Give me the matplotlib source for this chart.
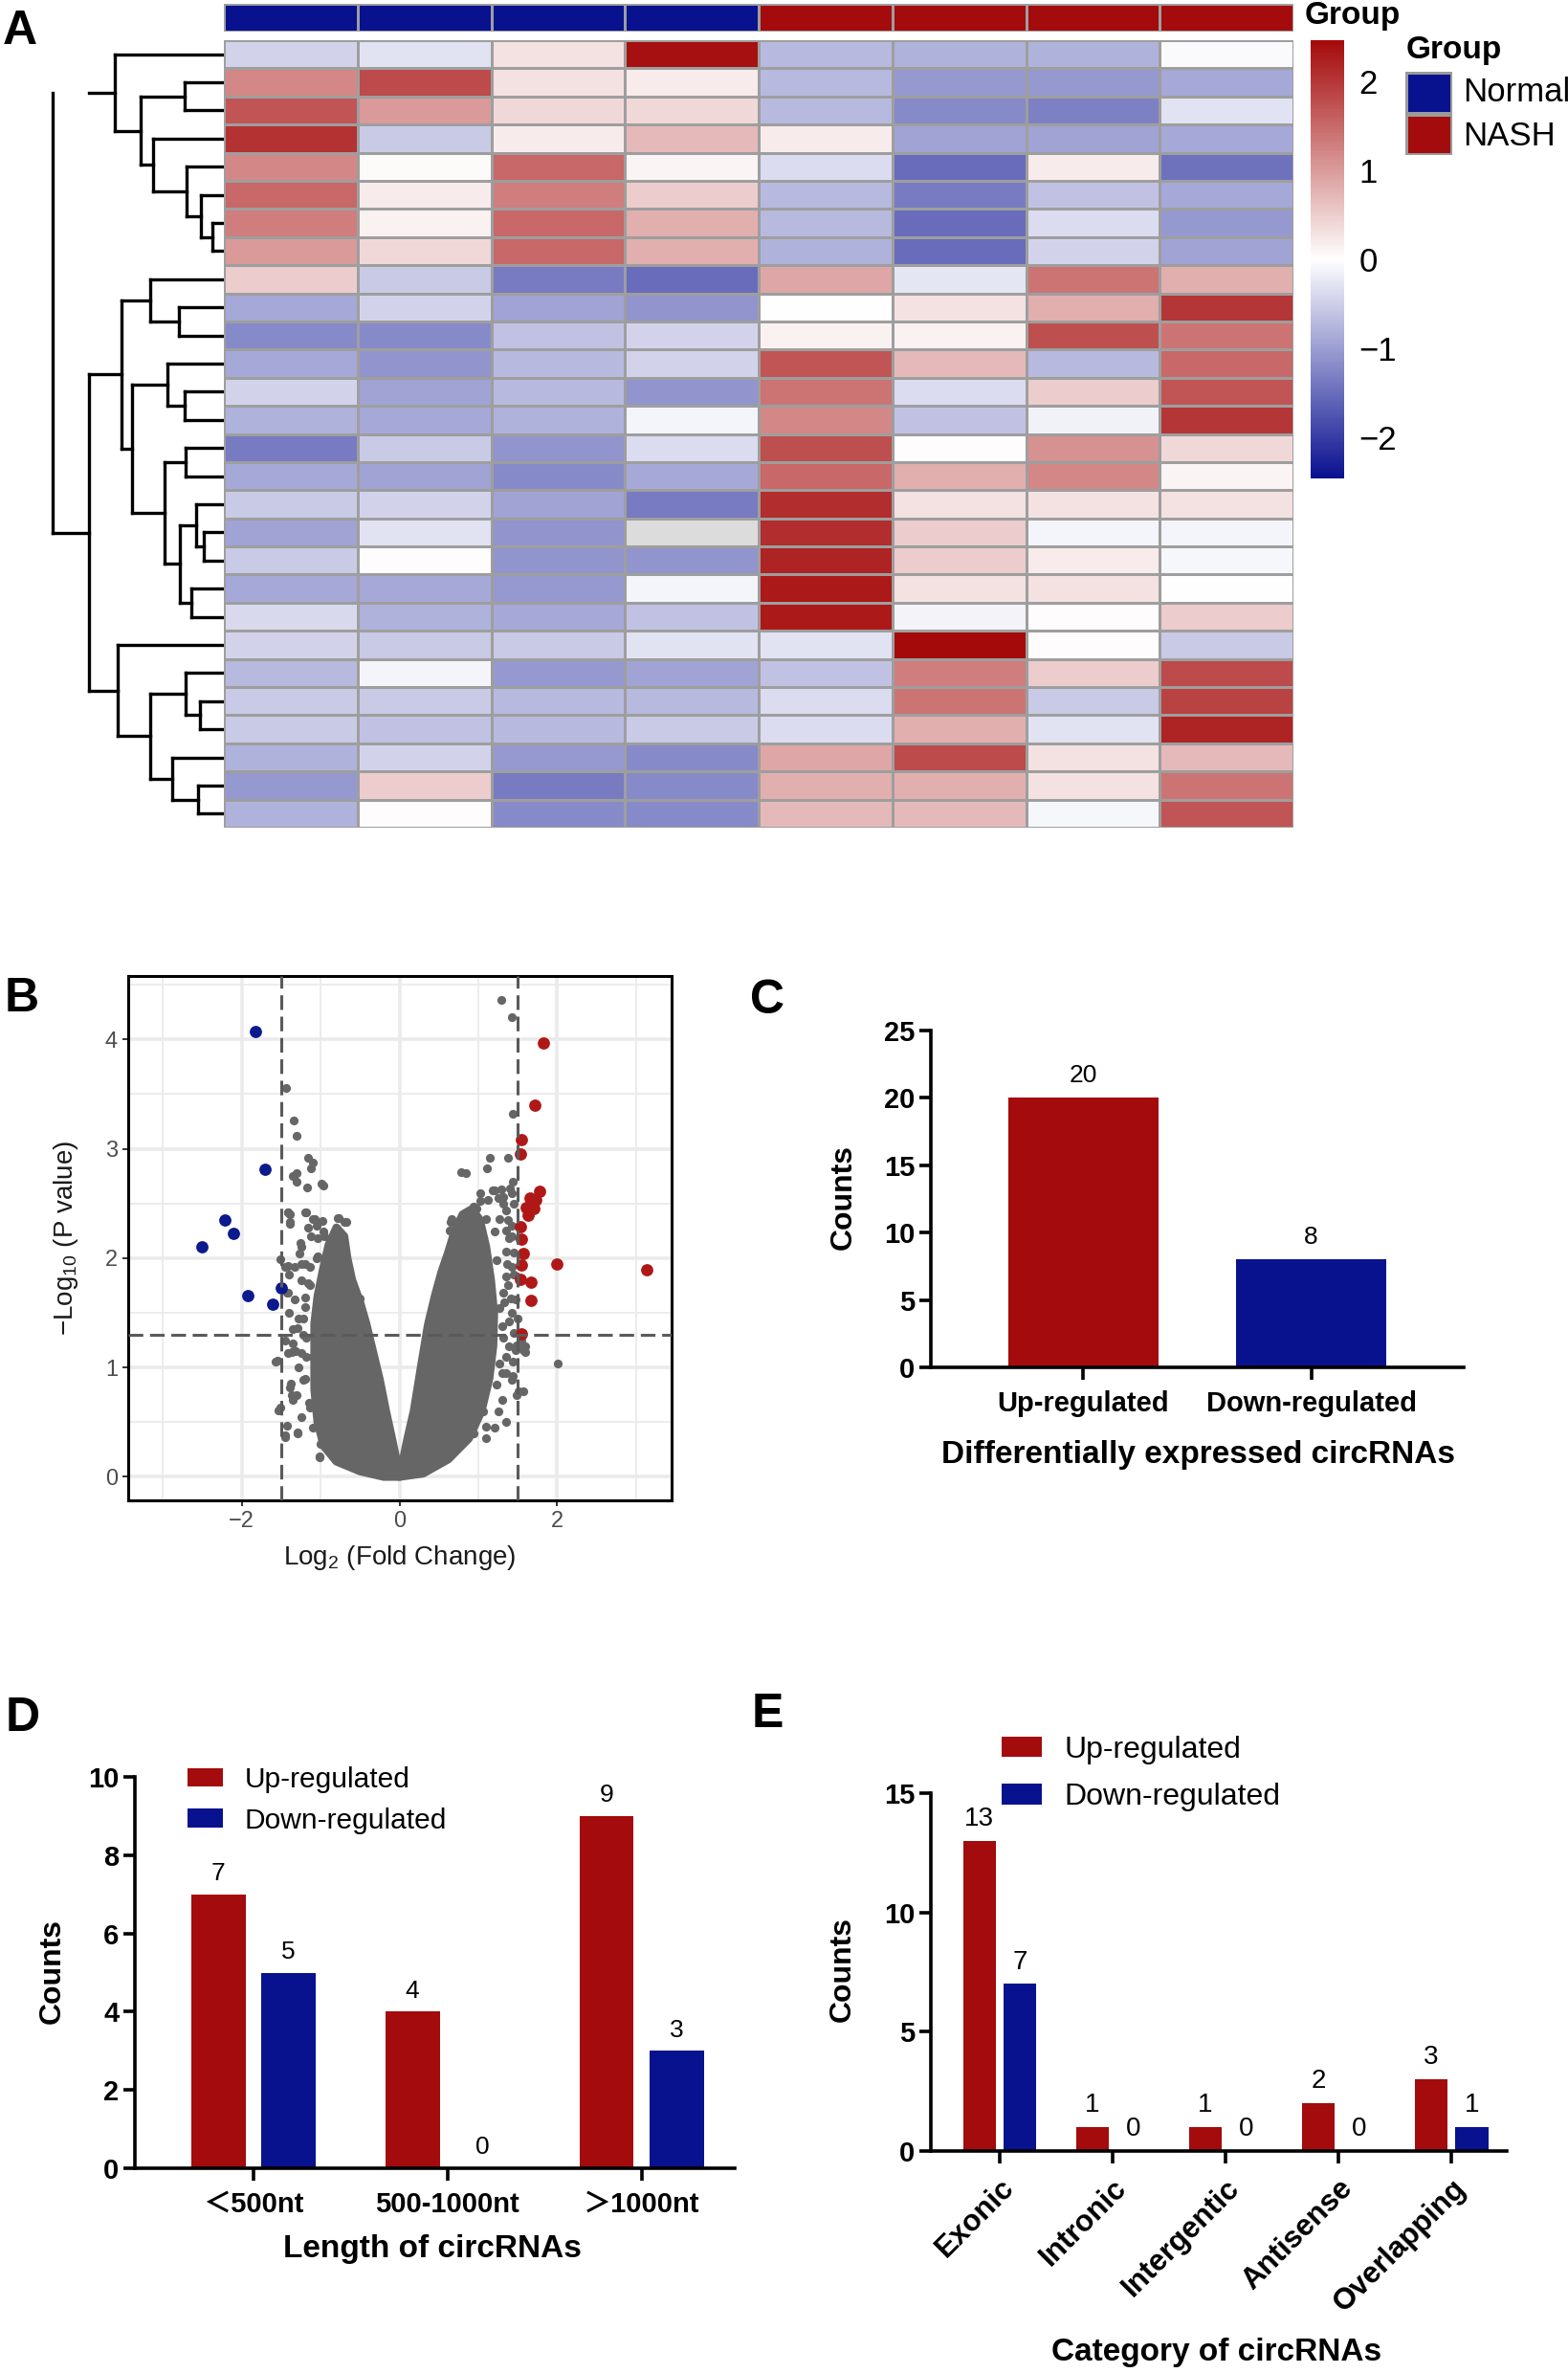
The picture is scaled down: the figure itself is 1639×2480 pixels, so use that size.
import numpy as np
import matplotlib
matplotlib.use("Agg")
import matplotlib.pyplot as plt
from matplotlib.colors import LinearSegmentedColormap, ListedColormap, Normalize
from matplotlib.cm import ScalarMappable

plt.rcParams['font.family'] = ['Liberation Sans', 'Noto Sans CJK SC', 'DejaVu Sans']
plt.rcParams['mathtext.fontset'] = 'custom'
plt.rcParams['mathtext.rm'] = 'Liberation Sans'
plt.rcParams['mathtext.it'] = 'Liberation Sans:italic'
plt.rcParams['mathtext.bf'] = 'Liberation Sans:bold'

RED = '#A30B0D'
BLUE = '#08128F'

# ---------------- A: heatmap data (row z-scores, 28 circRNAs x 8 samples)
sample_groups = ['Normal'] * 4 + ['NASH'] * 4
group_names = ['Normal', 'NASH']
group_colors = ['#08128F', '#A30B0D']

heat_rows = [
    [-0.45, -0.30, 0.30, 2.40, -0.72, -0.80, -0.80, -0.05],
    [1.20, 1.80, 0.30, 0.20, -0.72, -1.05, -1.05, -0.90],
    [1.70, 1.00, 0.40, 0.40, -0.72, -1.20, -1.30, -0.30],
    [2.05, -0.55, 0.20, 0.70, 0.20, -0.95, -0.95, -0.90],
    [1.20, 0.05, 1.50, 0.10, -0.35, -1.50, 0.20, -1.45],
    [1.50, 0.20, 1.30, 0.50, -0.72, -1.35, -0.62, -0.90],
    [1.30, 0.15, 1.50, 0.80, -0.72, -1.50, -0.35, -1.05],
    [1.00, 0.40, 1.50, 0.80, -0.80, -1.50, -0.45, -0.95],
    [0.50, -0.55, -1.35, -1.50, 0.90, -0.25, 1.40, 0.80],
    [-0.90, -0.45, -0.95, -1.10, 0.00, 0.30, 0.80, 2.00],
    [-1.20, -1.20, -0.62, -0.45, 0.15, 0.15, 1.75, 1.40],
    [-0.90, -1.10, -0.72, -0.45, 1.70, 0.70, -0.72, 1.50],
    [-0.45, -0.95, -0.72, -1.10, 1.40, -0.35, 0.50, 1.70],
    [-0.80, -0.90, -0.80, -0.10, 1.20, -0.62, -0.15, 2.00],
    [-1.35, -0.55, -1.10, -0.35, 1.75, 0.02, 1.10, 0.40],
    [-0.90, -0.95, -1.20, -0.90, 1.50, 0.80, 1.20, 0.10],
    [-0.55, -0.45, -0.95, -1.35, 2.10, 0.30, 0.30, 0.30],
    [-0.95, -0.30, -1.10, np.nan, 2.10, 0.50, -0.10, -0.10],
    [-0.55, 0.02, -1.10, -1.10, 2.20, 0.50, 0.20, -0.08],
    [-0.90, -0.90, -1.05, -0.10, 2.30, 0.30, 0.30, 0.00],
    [-0.40, -0.80, -0.90, -0.62, 2.30, -0.12, 0.02, 0.50],
    [-0.45, -0.55, -0.55, -0.30, -0.30, 2.46, 0.02, -0.55],
    [-0.72, -0.10, -1.05, -0.95, -0.62, 1.30, 0.50, 1.80],
    [-0.55, -0.55, -0.72, -0.72, -0.35, 1.40, -0.55, 1.90],
    [-0.55, -0.62, -0.72, -0.55, -0.35, 0.80, -0.30, 2.20],
    [-0.80, -0.45, -1.05, -1.20, 0.90, 1.80, 0.30, 0.70],
    [-1.05, 0.50, -1.35, -1.20, 0.80, 0.80, 0.30, 1.40],
    [-0.80, 0.02, -1.20, -1.20, 0.70, 0.70, -0.08, 1.70],
]
colorbar_ticks = [-2, -1, 0, 1, 2]

# row dendrogram: (merge height, left, right); leaves are row indices
row_tree = (179,
            (114, 0, (87, (41, 1, 2), (74, 3, (39, 4, (24, 5, (12, 6, 7)))))),
            (141,
             (107, (77, 8, (47, 9, 10)),
              (96, (59, 11, (41, 12, 13)),
               (62, (40, 14, 15), (46, (29, 16, (21, 17, 18)), (34, 19, 20))))),
             (111, 21, (77, (40, 22, (25, 23, 24)), (54, 25, (27, 26, 27))))))

# ---------------- B: volcano
down_x = [-1.83, -1.71, -2.21, -2.10, -2.50, -1.92, -1.50, -1.61]
down_y = [4.07, 2.81, 2.35, 2.23, 2.10, 1.66, 1.73, 1.58]
up_x = [1.82, 1.72, 1.54, 1.53, 1.77, 1.65, 1.73, 1.61, 1.70, 1.63,
        1.53, 1.55, 1.57, 1.54, 2.00, 3.13, 1.53, 1.67, 1.67, 1.54]
up_y = [3.97, 3.40, 3.08, 2.95, 2.61, 2.55, 2.53, 2.46, 2.45, 2.39,
        2.29, 2.17, 2.04, 1.94, 1.95, 1.89, 1.81, 1.78, 1.61, 1.31]
# scattered non-significant circRNAs outside the dense core
ns_x = [-1.44, -1.34, -1.31, -1.16, -1.10, -1.12, -1.30, -1.35, -1.30, -1.17,
        -0.99, -0.96, -1.42, -1.39, -1.39, -1.20, -1.10, -1.05, -0.77, -0.70,
        -0.83, -0.95, -1.12, -1.25, -1.51, -1.45, -1.33, -1.20, -1.05, -1.40,
        -1.25, -1.13, -1.43, -1.33, -1.20, -1.40, -1.28, -1.35, -1.22, -1.45,
        -1.32, -1.42, -1.18, -1.57, -1.28, -1.20, -1.38, -1.30, -1.35, -1.15,
        -1.53, -1.25, -1.45, -1.29, -1.10, -1.02, -1.00,
        -1.41, -1.39, -1.18, -1.16, -1.08, -0.98, -1.04, -0.96, -0.78, -0.68,
        -0.80, -0.82, -0.72, -1.26, -1.27, -1.41, -1.25, -1.14, -1.04, -0.88,
        -0.96, -1.16, -0.68, -0.70, -0.50, -1.20, -1.41, -1.22, -1.29, -1.18,
        -1.35, -1.25, -1.10, -1.55, -1.22, -1.39, -1.37, -1.14, -1.51, -1.43,
        -1.29, -1.45, -1.02, -1.37, -1.06, -0.52, -0.46,
        1.29, 1.43, 1.44, 1.37, 1.14, 1.11, 0.78, 0.84, 1.44, 1.40,
        1.29, 1.43, 1.20, 1.25, 1.32, 1.45, 1.02, 0.98, 0.65, 0.72,
        1.38, 1.35, 1.42, 1.45, 1.36, 1.45, 1.38, 1.47, 1.33, 1.42,
        1.30, 1.45, 1.48, 1.59, 1.59, 1.35, 1.44, 1.30, 1.44, 1.57,
        1.48, 1.30, 1.25, 1.35, 1.20, 1.10, 2.01, 1.50,
        0.66, 0.76, 0.64, 0.78, 0.90, 0.94, 1.02, 1.12, 1.18, 1.31,
        1.35, 1.27, 1.43, 1.39, 1.35, 1.23, 1.43, 1.35, 1.31, 1.41,
        1.27, 1.39, 1.31, 1.39, 1.27, 1.35, 1.43, 1.23, 1.06, 1.10,
        0.94, 0.78, 0.66, 1.51, 1.47, 1.55, 1.57, 1.21, 1.10]
ns_y = [3.56, 3.26, 3.12, 2.92, 2.87, 2.82, 2.78, 2.75, 2.70, 2.65,
        2.68, 2.66, 2.42, 2.40, 2.31, 2.42, 2.36, 2.30, 2.37, 2.33,
        2.23, 2.20, 2.20, 2.10, 1.99, 1.92, 1.92, 1.95, 2.00, 1.85,
        1.80, 1.75, 1.68, 1.62, 1.55, 1.50, 1.45, 1.35, 1.30, 1.25,
        1.15, 1.13, 1.10, 1.05, 1.00, 0.90, 0.85, 0.75, 0.70, 0.68,
        0.61, 0.55, 0.36, 0.40, 0.45, 0.18, 0.30,
        2.42, 2.33, 2.42, 2.28, 2.36, 2.34, 2.18, 2.24, 2.37, 2.33,
        2.27, 2.09, 2.06, 2.14, 2.04, 1.93, 1.95, 1.92, 2.02, 1.98,
        1.83, 1.77, 1.80, 1.68, 1.63, 1.64, 1.68, 1.45, 1.36, 1.27,
        1.22, 1.13, 1.10, 1.06, 0.89, 0.82, 0.75, 0.63, 0.63, 0.47,
        0.41, 0.38, 0.19, 1.14, 1.29, 1.45, 1.33,
        4.36, 4.20, 3.32, 2.92, 2.92, 2.82, 2.79, 2.78, 2.70, 2.64,
        2.63, 2.59, 2.62, 2.55, 2.50, 2.50, 2.52, 2.45, 2.33, 2.30,
        2.35, 2.25, 2.20, 2.05, 1.95, 1.85, 1.75, 1.62, 1.60, 1.50,
        1.38, 1.32, 1.20, 1.19, 1.14, 1.10, 1.05, 0.95, 0.92, 0.78,
        0.75, 0.70, 0.60, 0.50, 0.45, 0.35, 1.04, 1.45,
        2.36, 2.33, 2.25, 2.18, 2.39, 2.47, 2.59, 2.53, 2.62, 2.56,
        2.44, 2.36, 2.30, 2.18, 2.06, 1.98, 1.92, 1.83, 1.68, 1.63,
        1.54, 1.42, 1.27, 1.19, 1.04, 0.95, 0.89, 0.84, 0.60, 0.46,
        0.40, 0.31, 0.28, 0.78, 1.16, 1.25, 1.16, 2.24, 2.36]
# outline of the dense non-significant core (left and right arms of the V)
cloud_left_x = [0.0, -0.03, -0.10, -0.17, -0.25, -0.33, -0.42, -0.50, -0.60, -0.66,
                -0.70, -0.80, -0.90, -0.97, -1.04, -1.08, -1.08, -1.08, -1.04, -0.96,
                -0.80, -0.50, -0.20]
cloud_left_y = [0.0, 0.13, 0.37, 0.60, 0.89, 1.13, 1.40, 1.60, 1.80, 2.00,
                2.20, 2.28, 2.12, 1.90, 1.65, 1.40, 1.10, 0.80, 0.50, 0.28,
                0.14, 0.05, 0.0]
cloud_right_x = [0.0, 0.30, 0.62, 0.88, 1.04, 1.14, 1.19, 1.20, 1.16, 1.10,
                 1.02, 0.92, 0.80, 0.70, 0.62, 0.53, 0.45, 0.36, 0.27, 0.18,
                 0.10, 0.04]
cloud_right_y = [0.0, 0.03, 0.16, 0.35, 0.60, 0.90, 1.20, 1.50, 1.80, 2.10,
                 2.35, 2.45, 2.40, 2.25, 2.06, 1.87, 1.66, 1.39, 1.00, 0.60,
                 0.35, 0.14]

# ---------------- C, D, E: counts
de_labels = ['Up-regulated', 'Down-regulated']
de_counts = [20, 8]

length_labels = ['\uff1c500nt', '500-1000nt', '\uff1e1000nt']
length_up = [7, 4, 9]
length_down = [5, 0, 3]

category_labels = ['Exonic', 'Intronic', 'Intergentic', 'Antisense', 'Overlapping']
category_up = [13, 1, 1, 2, 3]
category_down = [7, 0, 0, 0, 1]

# ---------------- figure
W, H = 1640, 2480
fig = plt.figure(figsize=(16.4, 24.8), dpi=100)


def box(l, t, r, b):
    return fig.add_axes([l / W, 1 - b / H, (r - l) / W, (b - t) / H])


def label(x, y, s, **kw):
    fig.text(x / W, 1 - y / H, s, **kw)


for letter, (lx, ly) in zip('ABCDE', [(21, 33), (23, 1044), (802, 1046), (24, 1796), (802, 1792)]):
    label(lx, ly, letter, fontsize=36, fontweight='bold', ha='center', va='center')

# heatmap
hm_cmap = LinearSegmentedColormap.from_list('bwr_hm', ['#0A1190', '#FFFFFF', '#A50A0A'])
hm_cmap.set_bad('#DCDCDC')
vals = np.ma.masked_invalid(np.array(heat_rows, dtype=float))
hm = box(234, 42, 1352, 865)
hm.pcolormesh(vals, cmap=hm_cmap, vmin=-2.46, vmax=2.46, edgecolors='#9E9E9E', linewidth=2.0)
hm.set_xlim(0, vals.shape[1])
hm.set_ylim(vals.shape[0], 0)
hm.axis('off')

# group annotation bar
ann = box(234, 4, 1352, 33)
codes = np.array([[group_names.index(g) for g in sample_groups]])
ann.pcolormesh(codes, cmap=ListedColormap(group_colors), vmin=-0.5, vmax=1.5,
               edgecolors='#9E9E9E', linewidth=2.0)
ann.set_xlim(0, len(sample_groups))
ann.set_ylim(1, 0)
ann.axis('off')
label(1364, 17, 'Group', fontsize=24, fontweight='bold', ha='left', va='center')

# dendrogram
dn = box(40, 42, 234, 865)


def draw_tree(ax, node, root=False):
    if not isinstance(node, tuple):
        return node + 0.5, 0
    h, a, b = node
    ya, ha = draw_tree(ax, a)
    yb, hb = draw_tree(ax, b)
    kw = dict(color='black', lw=2.4, solid_capstyle='projecting')
    # in the original the root's upper branch stops short of the root line
    ax.plot([ha, hb if root else h], [ya, ya], **kw)
    ax.plot([hb, h], [yb, yb], **kw)
    ax.plot([h, h], [ya, yb], **kw)
    return (ya + yb) / 2, h


draw_tree(dn, row_tree, root=True)
dn.set_xlim(194, 0)
dn.set_ylim(len(heat_rows), 0)
dn.axis('off')

# colorbar
cax = box(1370, 42, 1405, 500)
cb = fig.colorbar(ScalarMappable(Normalize(-2.46, 2.46), hm_cmap), cax=cax, ticks=colorbar_ticks)
cb.outline.set_visible(False)
cax.tick_params(length=0, labelsize=25, pad=11)

# group legend
lg = box(1469, 75, 1518, 162)
lg.pcolormesh(np.arange(len(group_names)).reshape(-1, 1), cmap=ListedColormap(group_colors),
              vmin=-0.5, vmax=1.5, edgecolors='#9A9A9A', linewidth=2.5)
lg.set_ylim(len(group_names), 0)
lg.axis('off')
label(1470, 53, 'Group', fontsize=24, fontweight='bold', ha='left', va='center')
for i, g in enumerate(group_names):
    label(1529, 97 + i * 45, g, fontsize=25, ha='left', va='center')

# ---------------- B volcano
vo = box(134, 1020, 702, 1568)
vo.set_xlim(-3.44, 3.45)
vo.set_ylim(-0.215, 4.58)
vo.set_xticks([-2, 0, 2])
vo.set_xticklabels(['\u22122', '0', '2'])
vo.set_yticks([0, 1, 2, 3, 4])
vo.set_xticks([-3, -1, 1, 3], minor=True)
vo.set_yticks([0.5, 1.5, 2.5, 3.5, 4.5], minor=True)
vo.grid(which='major', color='#EBEBEB', lw=2.6, zorder=0)
vo.grid(which='minor', color='#EBEBEB', lw=1.3, zorder=0)
vo.set_axisbelow(True)
for sp in vo.spines.values():
    sp.set_linewidth(2.2)
vo.tick_params(which='major', length=4, width=1.4, color='#333333', labelsize=17,
               labelcolor='#4D4D4D', pad=4)
vo.tick_params(which='minor', length=0)
vo.fill(cloud_left_x, cloud_left_y, facecolor='#666666', edgecolor='#666666', lw=6,
        joinstyle='round', zorder=2)
vo.fill(cloud_right_x, cloud_right_y, facecolor='#666666', edgecolor='#666666', lw=6,
        joinstyle='round', zorder=2)
vo.scatter(ns_x, ns_y, s=44, color='#666666', linewidths=0, zorder=3)
vo.scatter(down_x, down_y, s=85, color='#0B1A8C', linewidths=0, zorder=3)
vo.scatter(up_x, up_y, s=85, color='#B01818', linewidths=0, zorder=3)
for xv in (-1.5, 1.5):
    vo.axvline(xv, color='#5A5A5A', lw=2.2, ls=(0, (5, 2.3)), zorder=4)
vo.axhline(1.3, color='#5A5A5A', lw=2.2, ls=(0, (5, 2.3)), zorder=4)
label(69, 1294, r'$-$Log$_{10}$ (P value)', fontsize=20, rotation=90, ha='center', va='center',
      color='#1A1A1A')
label(418, 1628, r'Log$_2$ (Fold Change)', fontsize=20, ha='center', va='center', color='#1A1A1A')


# ---------------- bar panels
def style_bars(ax, ymax, step, size=21):
    ax.set_ylim(0, ymax)
    ax.set_yticks(np.arange(0, ymax + 1, step))
    for s in ('top', 'right'):
        ax.spines[s].set_visible(False)
    for s in ('left', 'bottom'):
        ax.spines[s].set_linewidth(2.6)
    ax.tick_params(axis='both', width=2.6, length=9, labelsize=21)
    ax.tick_params(axis='x', labelsize=size, pad=8)
    ax.tick_params(axis='y', pad=3)
    for t in ax.get_yticklabels() + ax.get_xticklabels():
        t.set_fontweight('bold')


# C
bc = box(973, 1077, 1530, 1429)
bars = bc.bar(range(len(de_counts)), de_counts, width=0.66, color=[RED, BLUE])
bc.bar_label(bars, padding=8, fontsize=19)
bc.set_xlim(-0.67, 1.67)
bc.set_xticks(range(len(de_labels)))
bc.set_xticklabels(de_labels)
style_bars(bc, 25, 5)
label(882, 1251, 'Counts', fontsize=23, fontweight='bold', rotation=90, ha='center', va='center')
label(1253, 1521, 'Differentially expressed circRNAs', fontsize=24, fontweight='bold',
      ha='center', va='center')

# D
bd = box(141, 1857, 768, 2266)
xd = np.arange(len(length_labels))
b_up = bd.bar(xd - 0.18, length_up, width=0.28, color=RED, label='Up-regulated')
b_dn = bd.bar(xd + 0.18, length_down, width=0.28, color=BLUE, label='Down-regulated')
bd.bar_label(b_up, padding=7, fontsize=19)
bd.bar_label(b_dn, padding=7, fontsize=19)
bd.set_xlim(-0.61, 2.48)
bd.set_xticks(xd)
bd.set_xticklabels(length_labels)
style_bars(bd, 10, 2)
bd.legend(frameon=False, fontsize=21.5, loc='upper left', bbox_to_anchor=(196 / W, 1 - 1846 / H),
          bbox_transform=fig.transFigure, borderpad=0, borderaxespad=0, handlelength=1.25,
          handleheight=0.65, handletextpad=0.75, labelspacing=0.5)
label(55, 2060, 'Counts', fontsize=23, fontweight='bold', rotation=90, ha='center', va='center')
label(452, 2350, 'Length of circRNAs', fontsize=24, fontweight='bold', ha='center', va='center')

# E
be = box(973, 1874, 1575, 2248)
xe = np.arange(len(category_labels))
e_up = be.bar(xe - 0.18, category_up, width=0.29, color=RED, label='Up-regulated')
e_dn = be.bar(xe + 0.18, category_down, width=0.29, color=BLUE, label='Down-regulated')
be.bar_label(e_up, padding=7, fontsize=20)
be.bar_label(e_dn, padding=7, fontsize=20)
be.set_xlim(-0.61, 4.49)
be.set_xticks(xe)
be.set_xticklabels(category_labels, rotation=45, ha='right', rotation_mode='anchor')
style_bars(be, 15, 5, size=22.5)
be.legend(frameon=False, fontsize=23, loc='upper left', bbox_to_anchor=(1047 / W, 1 - 1814 / H),
          bbox_transform=fig.transFigure, borderpad=0, borderaxespad=0, handlelength=1.3,
          handleheight=0.65, handletextpad=0.75, labelspacing=0.6)
label(881, 2058, 'Counts', fontsize=23, fontweight='bold', rotation=90, ha='center', va='center')
label(1272, 2458, 'Category of circRNAs', fontsize=24, fontweight='bold', ha='center', va='center')

fig.savefig('out.png', dpi=100, facecolor='white')
